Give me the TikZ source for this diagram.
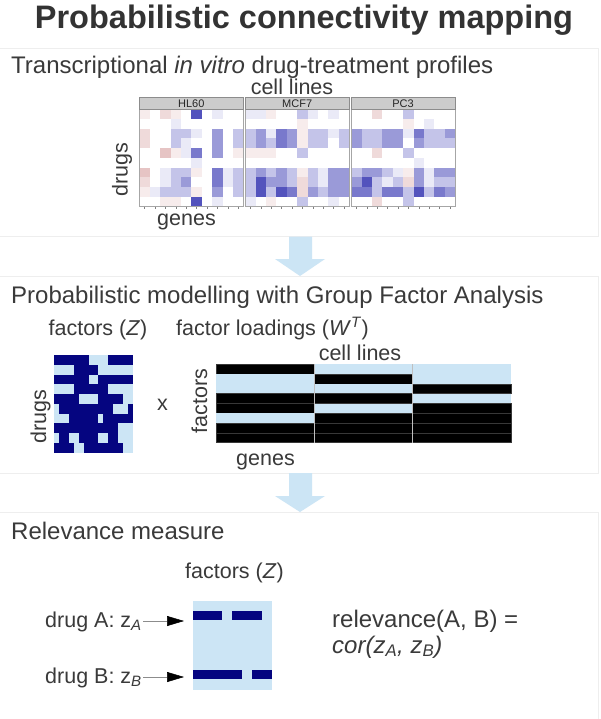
\documentclass[tikz,border=0pt]{standalone}
\usepackage{fontspec}
\setmainfont{Liberation Sans}
\usetikzlibrary{arrows.meta}
\definecolor{txt}{RGB}{58,58,58}
\definecolor{lb}{RGB}{204,229,245}
\definecolor{nv}{RGB}{5,5,128}
\definecolor{hb}{RGB}{45,45,175}
\definecolor{hp}{RGB}{190,100,100}
\definecolor{frm}{RGB}{238,238,238}
\newcommand\fsz[1]{\fontsize{#1}{#1}\selectfont}
\newcommand\heatpanel[2]{%
  \fill[white] (#1,109) rectangle ++(104,97.7);
  \foreach \rowv [count=\r from 0] in {#2} {
    \foreach \v [count=\c from 0] in \rowv {
      \ifnum\v>0
        \pgfmathtruncatemacro\pct{{0,10,28,48,64,82}[\v]}
        \fill[hb!\pct!white] (#1+\c*10.4,109+\r*9.77) rectangle ++(10.4,9.77);
      \else\ifnum\v<0
        \pgfmathtruncatemacro\aa{abs(\v)}
        \pgfmathtruncatemacro\pct{{0,12,24,38}[\aa]}
        \fill[hp!\pct!white] (#1+\c*10.4,109+\r*9.77) rectangle ++(10.4,9.77);
      \fi\fi
    }
  }
  \draw[black!35,line width=0.5] (#1,109) rectangle ++(104,97.7);
  \draw[black!45,fill=black!20,line width=0.5] (#1,97.7) rectangle ++(104,11.3);
  \foreach \c in {0,...,9} \draw[black!50,line width=0.4] (#1+\c*10.4+5.2,206.7) -- ++(0,2.5);
}
\begin{document}
\begin{tikzpicture}[x=1pt,y=-1pt,
  lbl/.style={inner sep=0pt,text=txt,font=\fsz{21.5}},
  sub/.style={inner sep=0pt,text=txt,font=\fsz{24},anchor=base west},
  strip/.style={inner sep=0pt,text=black!85,font=\fsz{11}},
  blockarrow/.style={fill=lb,draw=none},
  relarrow/.style={draw=black!45,line width=0.5,-{Triangle[length=17pt,width=10pt,black]}}]
\useasboundingbox (0,0) rectangle (600,719);
\fill[white] (0,0) rectangle (600,719);
% panel frames
\draw[frm,line width=0.8] (-2,48) rectangle (598.5,236.7);
\draw[frm,line width=0.8] (-2,276) rectangle (598.5,473);
\draw[frm,line width=0.8] (-2,512) rectangle (598.5,725);
% title
\node[inner sep=0pt,text=black!80,font=\fsz{32.5}\bfseries,anchor=base] (title) at (304,29) {Probabilistic connectivity mapping};
% ---------- panel 1
\node[sub] (s1) at (11,74) {Transcriptional \textit{in vitro} drug-treatment profiles};
\node[lbl,anchor=base] (cl1) at (292,95) {cell lines};
\node[lbl,anchor=base,rotate=90] (dr1) at (127.5,170) {drugs};
\heatpanel{139.3}{{-1,0,-2,-1,0,5,0,1,0,0},{0,0,0,1,0,0,0,0,0,0},{-2,0,0,2,2,1,0,3,0,2},{-2,0,0,2,1,0,0,3,0,2},{0,0,-3,-1,1,4,0,3,0,-1},{0,0,0,0,0,1,0,0,0,0},{-3,0,1,2,2,-1,0,4,1,2},{-2,0,1,2,3,0,0,4,1,2},{-1,1,2,2,2,-1,0,3,0,2},{0,0,-1,-1,0,5,0,1,0,0}}
\heatpanel{245.2}{{1,1,-1,0,0,2,1,0,1,0},{0,0,0,0,0,-1,0,0,0,0},{2,3,1,4,3,-1,2,2,1,2},{2,3,2,4,3,-1,2,2,0,2},{-1,-1,-1,0,0,2,0,0,0,0},{0,0,0,0,0,0,0,0,0,0},{2,3,2,3,2,-1,2,1,3,3},{2,5,3,3,2,-2,2,1,3,3},{2,5,2,5,4,-2,3,2,3,3},{1,0,-1,0,0,2,0,0,1,0}}
\heatpanel{351.1}{{0,0,-2,0,0,2,0,0,0,0},{0,0,0,0,0,-1,0,1,0,0},{3,2,2,3,3,1,4,2,2,3},{3,2,2,3,3,0,3,2,2,2},{0,0,-2,0,0,2,0,0,0,0},{0,0,0,0,0,0,1,0,0,0},{2,3,3,2,1,-1,3,1,3,3},{3,5,2,1,2,-2,3,1,2,2},{4,4,2,4,4,2,5,2,4,3},{0,0,-2,0,0,2,0,0,0,0}}
\node[strip] (hl) at (191.3,103.6) {HL60};
\node[strip] (mc) at (297.2,103.6) {MCF7};
\node[strip] (pc) at (403.1,103.6) {PC3};
\node[lbl,anchor=base west] (g1) at (157,225.5) {genes};
% arrow 1
\fill[blockarrow] (289,236.7) -- (312,236.7) -- (312,259) -- (325,259) -- (300,276) -- (275,259) -- (289,259) -- cycle;
% ---------- panel 2
\node[sub] (s2) at (11,303) {Probabilistic modelling with Group Factor Analysis};
\node[lbl,anchor=base west] (fz) at (48.5,335.5) {factors (\textit{Z})};
\node[lbl,anchor=base,rotate=90] (dr2) at (46,417) {drugs};
\fill[lb] (54.3,355) rectangle (132.7,452.7);
\foreach \r/\a/\b in {0/0/7,0/11/16,1/4/9,2/0/7,2/9/16,3/4/11,4/0/5,4/9/14,5/1/12,5/15/16,6/3/9,6/10/16,7/0/13,8/1/3,8/5/9,8/11/13,9/0/4,9/6/14}
  \fill[nv] (54.3+\a*4.9,355+\r*9.77) rectangle (54.3+\b*4.9,355+\r*9.77+9.77);
\node[lbl] (times) at (162.5,405) {x};
\node[lbl,anchor=base west] (fl) at (176,335.5) {factor loadings (\textit{W}\textsuperscript{\textit{T}})};
\node[lbl,anchor=base] (cl2) at (360,360) {cell lines};
\node[lbl,anchor=base,rotate=90] (fac) at (207,401) {factors};
\foreach \r/\a/\b/\c in {0/1/0/0,1/0/1/0,2/0/0/1,3/1/1/0,4/1/0/1,5/0/1/1,6/1/1/1,7/1/1/1}{
  \foreach \blk/\v in {0/\a,1/\b,2/\c}{
    \ifnum\v=1
      \fill[black,draw=black!78,line width=0.6] (216+\blk*98.3,364.3+\r*9.8) rectangle ++(98.3,9.8);
    \else
      \fill[lb] (216+\blk*98.3,364.3+\r*9.8) rectangle ++(98.3,9.8);
    \fi
  }
}
\draw[black!25,line width=0.4] (314.3,364.3) -- (314.3,442.7) (412.6,364.3) -- (412.6,442.7);
\node[lbl,anchor=base west] (g2) at (236,465) {genes};
% arrow 2
\fill[blockarrow] (289,473) -- (312,473) -- (312,496) -- (325,496) -- (300,512) -- (275,496) -- (289,496) -- cycle;
% ---------- panel 3
\node[sub] (s3) at (11,539) {Relevance measure};
\node[lbl,anchor=base west] (fz3) at (185,578) {factors (\textit{Z})};
\fill[lb] (192.7,600.7) rectangle (272,690);
\fill[nv] (192.7,610.7) rectangle (222.3,620);
\fill[nv] (232.3,610.7) rectangle (261.7,620);
\fill[nv] (192.7,670) rectangle (242.3,679.3);
\fill[nv] (252,670) rectangle (272,679.3);
\node[lbl,anchor=base west] (dA) at (45,627) {drug A: z\textsubscript{\textit{A}}};
\node[lbl,anchor=base west] (dB) at (45,683) {drug B: z\textsubscript{\textit{B}}};
\coordinate (sA) at (143,621);
\coordinate (tA) at (184,621);
\coordinate (sB) at (143,677);
\coordinate (tB) at (184,677);
\draw[relarrow] (sA) -- (tA);
\draw[relarrow] (sB) -- (tB);
\node[sub] (rel) at (332,627) {relevance(A, B) =};
\node[sub] (cor) at (332,653) {\textit{cor(z\textsubscript{A}, z\textsubscript{B})}};
\end{tikzpicture}
\end{document}
